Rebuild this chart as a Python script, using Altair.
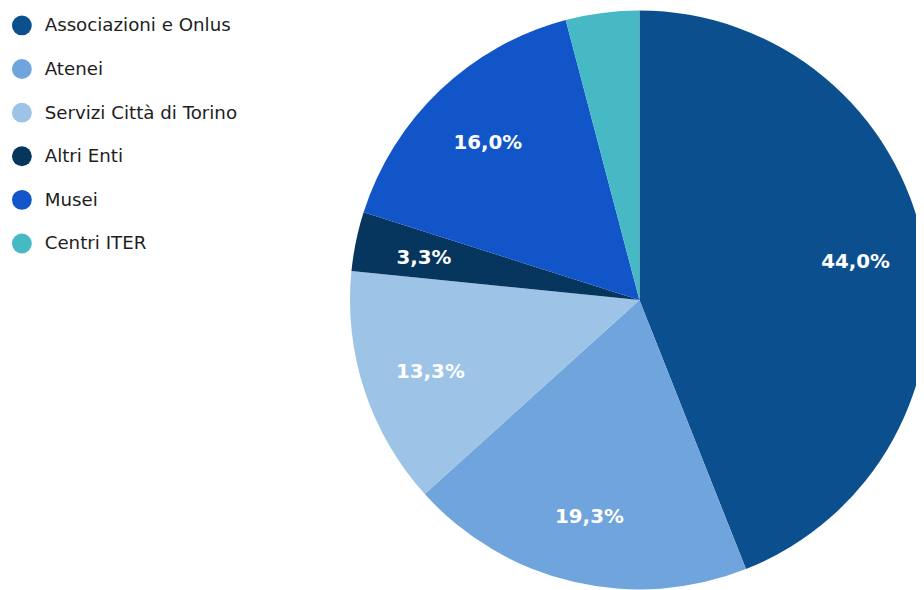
import altair as alt
import pandas as pd

categories = ["Associazioni e Onlus", "Atenei", "Servizi Città di Torino", "Altri Enti", "Musei", "Centri ITER"]
values = [44.0, 19.3, 13.3, 3.3, 16.0, 4.1]
labels = ["44,0%", "19,3%", "13,3%", "3,3%", "16,0%", ""]
colors = ["#0c4f8f", "#6fa5dc", "#9dc3e6", "#06365e", "#1155c8", "#47b9c4"]

df = pd.DataFrame({
    "category": categories,
    "value": values,
    "label": labels,
    "idx": list(range(len(categories))),
})

CX, CY, R = 637, 292, 292

base = alt.Chart(df).encode(
    theta=alt.Theta("value:Q", stack=True),
    order=alt.Order("idx:Q", sort="ascending"),
)

arcs = base.mark_arc(radius=R, strokeWidth=0).encode(
    x=alt.value(CX),
    y=alt.value(CY),
    color=alt.Color(
        "category:N",
        scale=alt.Scale(domain=categories, range=colors),
        sort=categories,
        legend=alt.Legend(
            title=None,
            orient="none",
            legendX=4,
            legendY=5,
            symbolType="circle",
            symbolSize=400,
            symbolStrokeWidth=0,
            labelFont="DejaVu Sans",
            labelFontSize=18.4,
            labelColor="#1e1e1e",
            labelOffset=13,
            labelLimit=400,
            rowPadding=24,
            padding=0,
        ),
    ),
)

text = base.mark_text(
    radius=222, dy=3, font="DejaVu Sans", fontWeight="bold", fontSize=20, color="white"
).encode(
    x=alt.value(CX),
    y=alt.value(CY),
    text="label:N",
)

chart = (arcs + text).properties(
    width=916,
    height=582,
    padding=0,
    autosize=alt.AutoSizeParams(type="none"),
).configure_view(stroke=None)

chart.save("out.html", embed_options={"renderer": "svg", "actions": False})
